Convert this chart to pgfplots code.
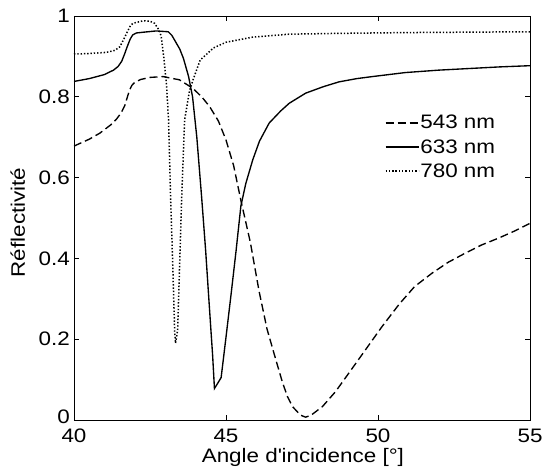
\documentclass[border=0pt]{standalone}
\usepackage{fontspec}
\setmainfont{Liberation Sans}[FakeStretch=1.15]
\usepackage{pgfplots}
\pgfplotsset{compat=1.18}

\begin{document}
\begin{tikzpicture}
\useasboundingbox (-74bp,-49bp) rectangle (470bp,420bp);
\begin{axis}[
  at={(0,0)}, anchor=south west,
  scale only axis, width=456bp, height=404bp,
  xmin=40, xmax=55, ymin=0, ymax=1,
  xtick={40,45,50,55}, xticklabels={40,45,50,55},
  ytick={0,0.2,0.4,0.6,0.8,1}, yticklabels={\raisebox{6bp}{0},0.2,0.4,0.6,0.8,1},
  tick align=inside, major tick length=5bp,
  tick style={black, line width=0.7bp},
  axis line style={black, line width=0.8bp},
  tick label style={font=\fontsize{19.5bp}{23bp}\selectfont, inner sep=0bp},
  xticklabel style={yshift=-8.5bp},
  yticklabel style={xshift=-4bp},
  ylabel={Réflectivité},
  xlabel={Angle d\textquotesingle incidence [°]},
  label style={font=\fontsize{19.5bp}{23bp}\selectfont},
  xlabel style={at={(axis description cs:0.502,-0.1057)}, anchor=base},
  ylabel style={at={(axis description cs:-0.1075,0.489)}, anchor=base},
  legend style={at={(axis cs:50.12,0.762)}, anchor=north west, draw=none, fill=none,
    font=\fontsize{19.5bp}{23bp}\selectfont, row sep=7bp,
    nodes={inner sep=1bp}},
  legend cell align=left,
  legend image code/.code={\draw[#1] (0bp,0bp) -- (33bp,0bp);},
]
\addplot[black, line width=1.35bp, dash pattern=on 8bp off 4bp] coordinates {
(40.0,0.678) (40.5,0.695) (40.85,0.71) (41.2,0.730) (41.4,0.745) (41.55,0.760)
(41.67,0.778) (41.75,0.798) (41.82,0.815) (41.9,0.828) (42.0,0.836) (42.2,0.843) (42.5,0.848) (42.93,0.850)
(43.47,0.842) (43.91,0.821) (44.2,0.80) (44.46,0.776) (44.75,0.74) (45.0,0.693)
(45.25,0.63) (45.5,0.54) (45.8,0.440) (46.09,0.318) (46.35,0.225) (46.64,0.149)
(46.85,0.095) (47.02,0.058) (47.19,0.033) (47.45,0.012) (47.62,0.007) (47.8,0.012) (48.17,0.033)
(48.6,0.07) (49.04,0.116) (49.6,0.175) (50.13,0.231) (50.7,0.287) (51.2,0.33)
(51.77,0.363) (52.3,0.39) (52.87,0.413) (53.4,0.433) (53.96,0.45) (54.5,0.468) (55.0,0.487)
};
\addlegendentry{543 nm}
\addplot[black, line width=1.35bp] coordinates {
(40.0,0.838) (40.5,0.845) (41.0,0.855) (41.3,0.866) (41.45,0.875) (41.57,0.888) (41.66,0.905)
(41.75,0.924) (41.85,0.943) (41.93,0.953) (42.05,0.958) (42.3,0.960) (42.7,0.963) (43.1,0.961)
(43.22,0.952) (43.35,0.935) (43.48,0.918) (43.6,0.895) (43.77,0.850) (43.9,0.800) (44.04,0.700)
(44.2,0.550) (44.33,0.42) (44.46,0.272) (44.56,0.16) (44.62,0.078) (44.72,0.09)
(44.84,0.105) (45.0,0.205) (45.17,0.313) (45.33,0.418) (45.49,0.53) (45.65,0.585)
(45.88,0.644) (46.1,0.69) (46.42,0.735) (46.8,0.765) (47.08,0.784) (47.62,0.809)
(48.2,0.825) (48.72,0.837) (49.3,0.845) (49.81,0.850) (50.9,0.860) (52.0,0.866)
(53.0,0.870) (54.0,0.874) (55.0,0.877)
};
\addlegendentry{633 nm}
\addplot[black, line width=1.5bp, dash pattern=on 1.4bp off 1.9bp] coordinates {
(40.0,0.906) (40.5,0.907) (41.07,0.910) (41.35,0.915) (41.51,0.924) (41.62,0.940)
(41.73,0.957) (41.85,0.975) (41.94,0.982) (42.27,0.988) (42.5,0.987) (42.65,0.982)
(42.8,0.965) (42.87,0.949) (42.95,0.90) (43.04,0.833) (43.11,0.743) (43.18,0.545)
(43.25,0.38) (43.31,0.223) (43.34,0.19) (43.41,0.223) (43.54,0.545) (43.64,0.743)
(43.8,0.815) (43.93,0.845) (44.15,0.891) (44.59,0.921) (45.0,0.935) (45.9,0.948)
(47.08,0.955) (48.72,0.957) (51.0,0.959) (55.0,0.961)
};
\addlegendentry{780 nm}
\end{axis}
\end{tikzpicture}
\end{document}
